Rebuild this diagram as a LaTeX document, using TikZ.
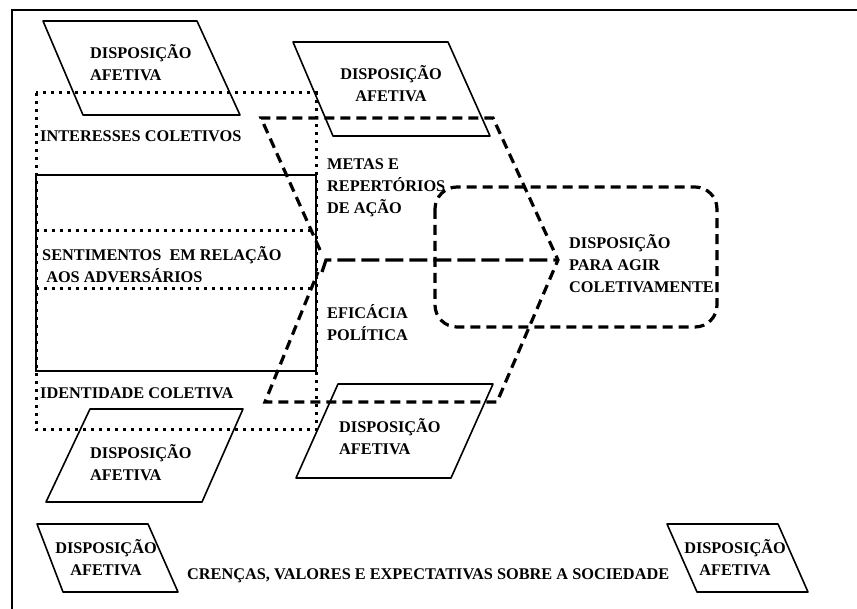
\documentclass[tikz,border=0pt]{standalone}
\usepackage{fontspec}
\setmainfont{Liberation Serif}

\tikzset{
  afetiva/.style={draw, line width=1.6pt, line join=round},
  dotline/.style={line width=3pt, dash pattern=on 3pt off 5pt},
  dashline/.style={line width=3.2pt, dash pattern=on 10pt off 6pt},
  rotulo/.style={font=\bfseries\fontsize{16.3}{22}\selectfont, inner sep=0pt, align=left},
}

\begin{document}
\begin{tikzpicture}[x=1pt,y=-1pt]
  \useasboundingbox (0,0) rectangle (857,609);
  % Frame
  \draw[line width=2.6pt] (12,609) -- (12,10) -- (857,10);

  % Boxes
  \draw[dotline] (36,93) rectangle (316,430);
  \draw[line width=2.8pt] (36,175) rectangle (316,371);
  \draw[dotline] (36,231) -- (316,231);
  \draw[dotline] (36,289) -- (316,289);

  % Dashed outline
  \draw[dashline] (320,250) -- (261,118) -- (493,118) -- (558,260) -- (497,402) -- (265,402) -- (318,272);
  \draw[dashline, dash pattern=on 18pt off 6pt] (322,272) -- (326,260) -- (558,260);
  \draw[dashline, rounded corners=22pt] (435,187) rectangle (717,327);

  % Parallelograms
  \draw[afetiva] (43,21) -- (197,21) -- (240,115) -- (83,115) -- cycle;
  \draw[afetiva] (293,42) -- (448,42) -- (490,136) -- (333,136) -- cycle;
  \draw[afetiva] (90,409) -- (243,409) -- (202,502) -- (46,502) -- cycle;
  \draw[afetiva] (338,384) -- (493,384) -- (451,478) -- (296,478) -- cycle;
  \draw[afetiva] (37,524) -- (148,524) -- (178,592) -- (63,592) -- cycle;
  \draw[afetiva] (667,524) -- (778,524) -- (808,592) -- (697,592) -- cycle;

  \node[rotulo, anchor=west] (afet1) at (90,63) {DISPOSIÇÃO\\AFETIVA};
  \node[rotulo, align=center] (afet2) at (391,84) {DISPOSIÇÃO\\AFETIVA};
  \node[rotulo, anchor=west] (afet3) at (90,463) {DISPOSIÇÃO\\AFETIVA};
  \node[rotulo, anchor=west] (afet4) at (339,437) {DISPOSIÇÃO\\AFETIVA};
  \node[rotulo, align=center] (afet5) at (106,558) {DISPOSIÇÃO\\AFETIVA};
  \node[rotulo, align=center] (afet6) at (735,558) {DISPOSIÇÃO\\AFETIVA};

  % Labels
  \node[rotulo, anchor=west] (interesses) at (40,136) {INTERESSES COLETIVOS};
  \node[rotulo, anchor=west] (sentimentos) at (42,265) {SENTIMENTOS\ \ EM RELAÇÃO\\\ AOS ADVERSÁRIOS};
  \node[rotulo, anchor=west] (identidade) at (40,393) {IDENTIDADE COLETIVA};
  \node[rotulo, anchor=west] (metas) at (327,188) {METAS E\\REPERTÓRIOS\\DE AÇÃO};
  \node[rotulo, anchor=west] (eficacia) at (327,323) {EFICÁCIA\\POLÍTICA};
  \node[rotulo, anchor=west] (agir) at (569,264) {DISPOSIÇÃO\\PARA AGIR\\COLETIVAMENTE};
  \node[rotulo, anchor=west] (crencas) at (187,576) {CRENÇAS, VALORES E EXPECTATIVAS SOBRE A SOCIEDADE};
\end{tikzpicture}
\end{document}
